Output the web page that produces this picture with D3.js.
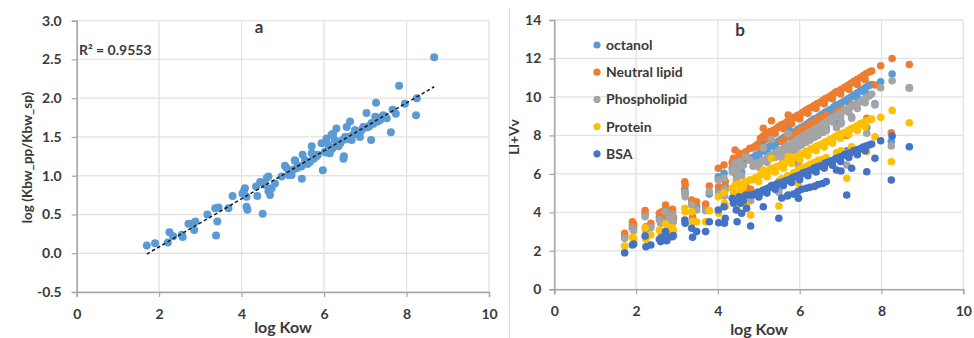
<!DOCTYPE html>
<html>
<head>
<meta charset="utf-8">
<script src="https://cdn.jsdelivr.net/npm/d3@7"></script>
<style>
  body { margin: 0; background: #fff; }
  svg { display: block; }
  text { font-family: Lato, "Open Sans", sans-serif; font-weight: 700; fill: #3a3a3a; }
</style>
</head>
<body>
<svg id="chart" width="974" height="338"></svg>
<script>
// ---------- Panel a: log(Kbw_pp/Kbw_sp) versus log Kow ----------
const aLogKow = [1.70,1.90,2.21,2.25,2.34,2.55,2.57,2.71,2.79,2.85,2.88,3.17,3.36,3.38,3.41,3.44,3.68,3.78,
  4.02,4.06,4.08,4.12,4.12,4.14,4.35,4.38,4.45,4.51,4.57,4.61,4.65,4.65,4.69,4.73,4.81,4.97,
  5.05,5.09,5.14,5.15,5.21,5.26,5.29,5.30,5.35,5.38,5.45,5.46,5.48,5.54,5.58,5.60,5.66,5.70,5.70,5.75,5.78,5.82,5.85,5.94,5.97,
  6.02,6.05,6.06,6.10,6.14,6.15,6.18,6.20,6.22,6.26,6.30,6.30,6.35,6.39,6.40,6.45,6.47,6.48,6.51,6.55,6.55,6.60,6.63,6.67,6.70,
  6.75,6.80,6.83,6.87,6.90,6.95,7.00,7.03,7.07,7.10,7.14,7.15,7.20,7.24,7.26,7.30,7.35,7.36,7.44,7.52,7.62,7.66,7.74,7.82,7.96,
  8.23,8.25,8.67];
const aRatio = [0.10,0.13,0.14,0.27,0.22,0.24,0.21,0.38,0.38,0.30,0.41,0.50,0.58,0.23,0.41,0.59,0.58,0.74,
  0.77,0.81,0.84,0.73,0.60,0.56,0.86,0.74,0.92,0.51,0.88,0.97,0.80,0.99,0.75,0.84,0.90,0.99,
  1.13,1.10,1.01,1.05,1.01,1.08,1.20,1.19,1.10,1.13,1.12,0.96,1.27,1.20,1.16,1.15,1.18,1.38,1.29,1.22,1.25,1.25,1.27,1.42,1.07,
  1.31,1.30,1.48,1.40,1.29,1.33,1.53,1.35,1.54,1.46,1.61,1.40,1.38,1.42,1.43,1.46,1.22,1.25,1.50,1.63,1.47,1.50,1.70,1.46,1.53,
  1.59,1.55,1.55,1.50,1.58,1.63,1.62,1.81,1.63,1.64,1.46,1.68,1.67,1.76,1.94,1.70,1.75,1.72,1.78,1.74,1.56,1.85,1.80,2.16,1.93,
  1.78,2.00,2.53];
const aR2Label = "R\u00B2 = 0.9553";

// ---------- Panel b: Ll+Vv of each phase versus log Kow ----------
const logKow = [1.72,1.91,1.94,2.22,2.24,2.36,2.57,2.60,2.63,2.72,2.75,2.80,2.89,2.91,3.19,3.20,3.36,3.38,3.48,3.70,3.79,
  4.01,4.02,4.15,4.16,4.18,4.35,4.38,4.42,4.45,4.47,4.52,4.55,4.58,4.62,4.68,4.70,4.78,4.80,
  4.86,4.92,4.98,5.00,5.04,5.10,5.11,5.16,5.20,5.22,5.28,5.31,5.35,5.40,5.42,5.48,5.49,5.55,5.56,5.60,5.62,5.68,5.70,5.72,5.75,
  5.80,5.82,5.85,5.88,5.95,5.96,5.97,6.00,6.02,6.05,6.08,6.15,6.16,6.20,6.22,6.25,6.28,6.35,6.36,6.40,6.42,6.45,6.48,6.55,6.56,
  6.60,6.62,6.65,6.68,6.75,6.80,6.82,6.88,6.90,6.95,7.00,7.01,7.02,7.10,7.15,7.18,7.20,7.25,7.27,7.32,7.40,7.41,7.48,7.55,7.60,
  7.62,7.64,7.70,7.76,7.84,7.98,8.24,8.26,8.68];
const octanol = [2.78,3.30,3.20,3.90,3.15,3.30,3.75,3.55,3.70,4.15,3.60,3.72,4.00,3.60,5.20,5.00,4.45,3.65,4.30,4.20,4.95,
  5.85,5.10,6.03,5.00,5.35,6.30,6.45,6.70,5.95,6.10,6.75,6.45,6.10,6.60,6.85,4.90,6.81,4.95,
  6.85,6.95,7.00,6.90,7.15,7.20,7.70,7.25,7.10,7.35,7.45,8.10,7.50,7.35,7.60,7.70,5.20,7.80,7.05,7.65,7.90,7.95,7.25,8.40,8.05,
  7.90,8.15,7.45,8.20,8.30,7.55,6.60,8.15,8.40,7.70,8.45,8.55,7.80,8.40,8.65,7.95,8.75,8.85,8.10,8.65,8.90,8.20,9.00,9.10,8.30,
  8.95,9.20,8.40,9.25,9.35,9.20,9.45,9.55,8.60,9.60,9.45,8.70,9.70,9.80,7.20,9.90,9.70,10.00,8.95,10.10,10.20,9.95,10.30,10.40,10.25,
  10.50,8.40,10.60,10.65,9.65,10.79,7.70,11.19,10.48];
const neutralLipid = [2.91,3.51,3.39,4.09,3.25,3.43,3.95,3.70,4.03,4.38,3.90,3.81,4.16,3.75,5.59,5.42,4.64,3.77,4.55,4.43,5.37,
  6.29,5.33,6.46,5.25,5.60,6.60,6.81,7.24,6.20,6.50,7.07,6.70,6.40,6.90,7.15,5.30,7.33,5.20,
  7.35,7.45,7.55,7.40,7.85,7.95,8.37,8.05,7.80,8.10,8.20,8.76,8.25,8.10,8.35,8.45,5.60,8.55,7.70,8.35,8.60,8.70,7.90,9.06,8.80,
  8.60,8.85,8.05,8.95,9.05,8.20,7.00,8.85,9.10,8.35,9.20,9.30,8.45,9.15,9.40,8.60,9.45,9.55,8.70,9.40,9.65,8.85,9.70,9.80,8.95,
  9.65,9.90,9.05,9.95,10.05,9.90,10.15,10.25,9.20,10.30,10.15,9.35,10.40,10.50,8.00,10.60,10.40,10.70,9.60,10.80,10.90,10.65,11.00,11.10,10.90,
  11.20,8.89,11.30,11.35,10.62,11.62,8.14,12.00,11.69];
const phospholipid = [2.65,3.17,3.05,3.77,3.05,3.20,3.60,3.45,3.51,4.03,3.50,3.64,3.86,3.50,5.02,4.81,4.38,3.55,4.12,4.09,5.07,
  5.68,4.95,5.77,4.85,5.20,6.10,6.25,6.55,5.70,6.03,6.63,6.37,5.90,6.45,6.90,4.47,6.70,4.60,
  6.40,6.50,6.55,6.35,6.60,6.70,7.35,6.75,6.60,6.85,6.95,7.80,7.00,6.85,7.10,7.20,5.05,7.25,6.85,7.10,7.35,7.45,7.05,8.10,7.50,
  7.35,7.60,7.20,7.70,7.80,7.40,6.40,7.60,7.85,7.50,7.95,8.05,7.65,7.90,8.15,7.75,8.20,8.30,7.90,8.15,8.40,8.00,8.45,8.55,8.15,
  8.40,8.65,8.25,8.75,8.85,8.70,8.95,9.00,8.40,9.10,8.95,8.60,9.20,9.30,6.46,9.40,9.20,9.50,8.89,9.55,9.65,9.40,9.75,9.85,9.70,
  9.95,8.11,10.05,10.15,9.58,10.48,7.45,10.84,10.45];
const protein = [2.25,2.70,2.62,3.20,2.60,2.82,3.08,2.95,2.91,3.39,3.00,3.17,3.20,3.05,4.21,4.03,4.03,3.51,3.51,3.51,4.09,
  4.81,3.95,5.02,4.47,4.30,5.25,5.07,5.42,4.95,4.12,5.50,5.16,5.00,5.30,5.59,4.35,5.68,3.86,
  5.70,5.80,5.85,5.60,5.95,6.00,6.20,6.05,5.85,6.10,6.25,6.81,6.30,6.10,6.35,6.40,4.33,6.50,5.75,6.30,6.55,6.60,5.90,6.90,6.70,
  6.55,6.80,6.05,6.85,6.90,6.20,5.50,6.75,7.00,6.30,7.05,7.15,6.40,6.95,7.20,6.50,7.30,7.35,6.60,7.20,7.45,6.70,7.50,7.55,6.75,
  7.40,7.65,6.85,7.70,7.80,7.60,7.85,7.95,7.10,8.00,7.85,7.20,8.10,8.15,5.77,8.25,8.05,8.35,7.41,8.40,8.50,8.25,8.60,8.65,8.45,
  8.75,7.15,8.80,8.85,7.93,8.94,6.63,9.30,8.66];
const bsa = [1.90,2.30,2.35,2.77,2.21,2.30,2.60,2.48,2.70,3.00,2.53,2.70,2.73,2.80,3.60,3.43,3.17,2.70,3.00,3.00,3.51,
  4.12,3.46,4.29,3.43,3.69,4.73,4.47,4.64,4.12,3.51,4.81,4.47,3.95,4.60,4.90,4.21,4.90,3.29,
  4.90,4.95,5.05,4.80,5.00,5.15,4.29,5.20,5.00,5.25,5.30,5.40,5.40,5.20,5.45,5.50,3.69,5.55,4.75,5.40,5.60,5.65,4.85,4.90,5.70,
  5.55,5.80,4.95,5.85,5.90,5.10,4.73,5.70,5.95,5.20,6.05,6.10,5.25,5.90,6.15,5.30,6.20,6.30,5.35,6.10,6.35,5.45,6.40,6.45,5.50,
  6.30,6.55,5.60,6.60,6.65,6.45,6.70,6.80,6.20,6.85,6.65,6.15,6.90,7.00,4.90,7.05,6.85,7.10,6.29,7.20,7.25,7.00,7.30,7.40,7.20,
  7.45,6.11,7.50,7.55,6.81,7.72,5.68,7.97,7.41];

const bSeries = [
  { name: "octanol",       values: octanol,      color: "#5b9bd5" },
  { name: "Neutral lipid", values: neutralLipid, color: "#ed7d31" },
  { name: "Phospholipid",  values: phospholipid, color: "#a5a5a5" },
  { name: "Protein",       values: protein,      color: "#ffc000" },
  { name: "BSA",           values: bsa,          color: "#4472c4" }
];

const xTicks = [0, 2, 4, 6, 8, 10];
const aYTicks = [-0.5, 0.0, 0.5, 1.0, 1.5, 2.0, 2.5, 3.0];
const bYTicks = [0, 2, 4, 6, 8, 10, 12, 14];

const svg = d3.select("#chart");
svg.append("rect").attr("width", 974).attr("height", 338).attr("fill", "#fff");

// thin divider between the two panels
svg.append("line").attr("x1", 509.5).attr("x2", 509.5).attr("y1", 8).attr("y2", 338)
  .attr("stroke", "#d9d9d9").attr("stroke-width", 1);

function frame(g, x, y, yTicks, yFmt, yPad) {
  const [x0, x1] = x.range();
  const [y0, y1] = y.range();
  // grid
  g.append("g").selectAll("line").data(xTicks).join("line")
    .attr("x1", d => x(d)).attr("x2", d => x(d)).attr("y1", y1).attr("y2", y0)
    .attr("stroke", "#e2e2e2").attr("stroke-width", 1.3);
  g.append("g").selectAll("line").data(yTicks).join("line")
    .attr("x1", x0).attr("x2", x1).attr("y1", d => y(d)).attr("y2", d => y(d))
    .attr("stroke", "#e2e2e2").attr("stroke-width", 1.3);
  // axes
  const ax = g.append("g").attr("transform", `translate(0,${y0})`)
    .call(d3.axisBottom(x).tickValues(xTicks).tickSize(5).tickPadding(12).tickFormat(d3.format("d")));
  const ay = g.append("g").attr("transform", `translate(${x0},0)`)
    .call(d3.axisLeft(y).tickValues(yTicks).tickSize(5).tickPadding(yPad).tickFormat(yFmt));
  [ax, ay].forEach(a => {
    a.select(".domain").attr("stroke", "#a6a6a6").attr("stroke-width", 1.5);
    a.selectAll(".tick line").attr("stroke", "#a6a6a6").attr("stroke-width", 1.2);
    a.selectAll(".tick text").style("font-size", "14px").style("font-family", "Lato, 'Open Sans', sans-serif")
      .style("font-weight", 700).attr("fill", "#3a3a3a");
  });
}

// ---------- draw panel a ----------
{
  const x = d3.scaleLinear().domain([0, 10]).range([76.7, 489]);
  const y = d3.scaleLinear().domain([-0.5, 3.0]).range([292, 20.7]);
  const g = svg.append("g");
  frame(g, x, y, aYTicks, d => d.toFixed(1), 10);

  const pts = aLogKow.map((v, i) => [v, aRatio[i]]);
  g.append("g").selectAll("circle").data(pts).join("circle")
    .attr("cx", d => x(d[0])).attr("cy", d => y(d[1])).attr("r", 4)
    .attr("fill", "#5b9bd5");

  // least-squares trend line across the data range
  const mx = d3.mean(pts, d => d[0]), my = d3.mean(pts, d => d[1]);
  const slope = d3.sum(pts, d => (d[0] - mx) * (d[1] - my)) / d3.sum(pts, d => (d[0] - mx) ** 2);
  const icpt = my - slope * mx;
  const [xmin, xmax] = d3.extent(aLogKow);
  g.append("line")
    .attr("x1", x(xmin)).attr("y1", y(slope * xmin + icpt))
    .attr("x2", x(xmax)).attr("y2", y(slope * xmax + icpt))
    .attr("stroke", "#1a1a1a").attr("stroke-width", 1.5).attr("stroke-dasharray", "3.5,2.5");

  g.append("text").attr("x", 79).attr("y", 55).style("font-size", "14px").text(aR2Label);
  g.append("text").attr("x", 259).attr("y", 33).attr("text-anchor", "middle").style("font-size", "17px").text("a");
  g.append("text").attr("x", 283).attr("y", 333).attr("text-anchor", "middle").style("font-size", "16px").text("log Kow");
  g.append("text").attr("transform", "translate(31.5,157.5) rotate(-90)").attr("text-anchor", "middle")
    .style("font-size", "13.5px").text("log (Kbw_pp/Kbw_sp)");
}

// ---------- draw panel b ----------
{
  const x = d3.scaleLinear().domain([0, 10]).range([554.3, 963.3]);
  const y = d3.scaleLinear().domain([0, 14]).range([289.3, 20]);
  const g = svg.append("g");
  frame(g, x, y, bYTicks, d3.format("d"), 8);

  bSeries.forEach(s => {
    g.append("g").selectAll("circle").data(s.values).join("circle")
      .attr("cx", (d, i) => x(logKow[i])).attr("cy", d => y(d)).attr("r", 3.8)
      .attr("fill", s.color);
  });

  const leg = g.append("g");
  bSeries.forEach((s, i) => {
    const cy = 45 + i * 27.2;
    leg.append("circle").attr("cx", 597).attr("cy", cy).attr("r", 3.6).attr("fill", s.color);
    leg.append("text").attr("x", 606).attr("y", cy + 5).style("font-size", "14px").text(s.name);
  });

  g.append("text").attr("x", 740).attr("y", 36).attr("text-anchor", "middle").style("font-size", "17px").text("b");
  g.append("text").attr("x", 759).attr("y", 335).attr("text-anchor", "middle").style("font-size", "16px").text("log Kow");
  g.append("text").attr("transform", "translate(519,137) rotate(-90)").attr("text-anchor", "middle")
    .style("font-size", "14px").text("Ll+Vv");
}
</script>
</body>
</html>
